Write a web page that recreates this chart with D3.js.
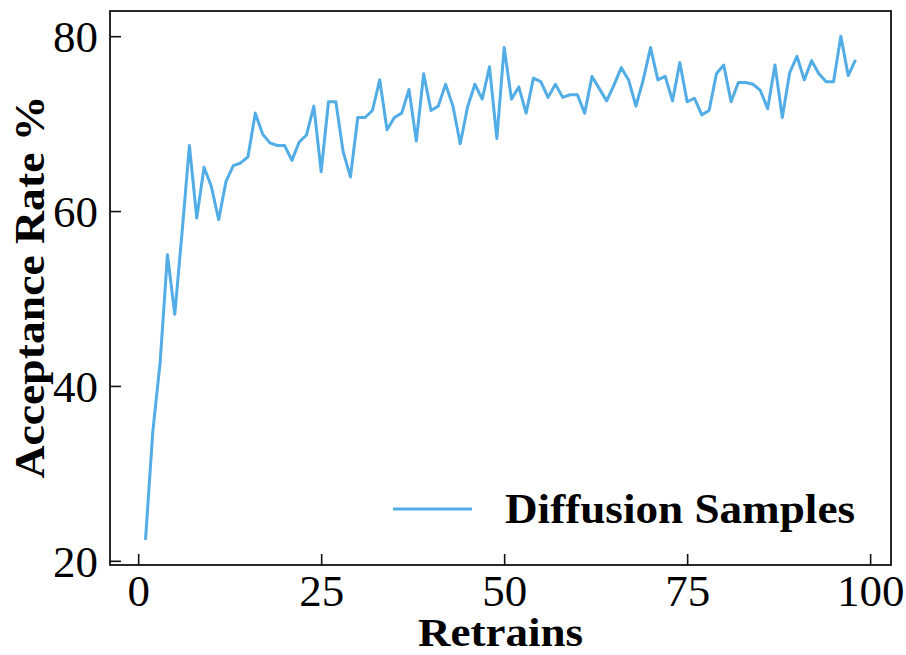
<!DOCTYPE html>
<html>
<head>
<meta charset="utf-8">
<script src="https://cdn.jsdelivr.net/npm/d3@7"></script>
<style>
  html, body { margin: 0; padding: 0; background: #fff; }
  svg { display: block; }
  text { font-family: "Liberation Serif", "Times New Roman", serif; fill: #000; }
</style>
</head>
<body>
<svg id="chart" width="906" height="655"></svg>
<script>
// Acceptance rate per retrain round
const retrains = d3.range(1, 99);
const acceptance = [
  22.4, 34.8, 42.7, 55.0, 48.2, 57.6, 67.5, 59.2, 65.0, 62.8,
  59.0, 63.4, 65.2, 65.5, 66.2, 71.2, 68.8, 67.8, 67.5, 67.5,
  65.8, 67.9, 68.7, 72.0, 64.5, 72.5, 72.5, 66.8, 63.9, 70.7,
  70.7, 71.5, 75.0, 69.3, 70.7, 71.2, 73.9, 68.0, 75.7, 71.5,
  72.0, 74.5, 72.0, 67.7, 71.9, 74.5, 72.8, 76.5, 68.3, 78.7,
  72.8, 74.2, 71.2, 75.2, 74.8, 73.0, 74.5, 73.0, 73.3, 73.3,
  71.2, 75.4, 74.0, 72.6, 74.4, 76.4, 75.0, 72.0, 75.0, 78.7,
  75.0, 75.4, 72.6, 77.0, 72.5, 72.9, 71.0, 71.5, 75.7, 76.7,
  72.5, 74.7, 74.7, 74.5, 73.8, 71.7, 76.7, 70.7, 75.8, 77.7,
  75.0, 77.2, 75.7, 74.8, 74.8, 80.0, 75.5, 77.3
];
const xTicks = [0, 25, 50, 75, 100];
const yTicks = [20, 40, 60, 80];
const seriesName = "Diffusion Samples";
const xLabel = "Retrains";
const yLabel = "Acceptance Rate %";

const svg = d3.select("#chart");
const plot = { left: 110, right: 891, top: 11, bottom: 565 };
const lineColor = "#52ACE6";

// Axis limits with 5% padding around the data extent
const xExt = d3.extent(retrains), yExt = d3.extent(acceptance);
const xPad = (xExt[1] - xExt[0]) * 0.05, yPad = (yExt[1] - yExt[0]) * 0.05;
const x = d3.scaleLinear().domain([xExt[0] - xPad, xExt[1] + xPad]).range([plot.left, plot.right]);
const y = d3.scaleLinear().domain([yExt[0] - yPad, yExt[1] + yPad]).range([plot.bottom, plot.top]);

// Data line
const line = d3.line().x((d, i) => x(retrains[i])).y(d => y(d));
svg.append("path")
  .datum(acceptance)
  .attr("d", line)
  .attr("fill", "none")
  .attr("stroke", lineColor)
  .attr("stroke-width", 3)
  .attr("stroke-linejoin", "round");

// Axes with inward ticks
const tickLen = 11;
const xAxis = svg.append("g")
  .attr("transform", `translate(0,${plot.bottom})`)
  .call(d3.axisBottom(x).tickValues(xTicks).tickSizeInner(-tickLen).tickSizeOuter(0).tickPadding(11).tickFormat(d3.format("d")));
const yAxis = svg.append("g")
  .attr("transform", `translate(${plot.left},0)`)
  .call(d3.axisLeft(y).tickValues(yTicks).tickSizeInner(-tickLen).tickSizeOuter(0).tickPadding(12).tickFormat(d3.format("d")));

[xAxis, yAxis].forEach(g => {
  g.select(".domain").remove();
  g.selectAll(".tick line").attr("stroke", "#111").attr("stroke-width", 1.6);
  g.selectAll(".tick text").attr("font-family", "Liberation Serif, serif").attr("font-size", 45).attr("fill", "#000");
});
yAxis.selectAll(".tick text").attr("dy", "0.34em");
xAxis.selectAll(".tick text").attr("dy", "0.66em");

// Frame
svg.append("rect")
  .attr("x", plot.left).attr("y", plot.top)
  .attr("width", plot.right - plot.left).attr("height", plot.bottom - plot.top)
  .attr("fill", "none").attr("stroke", "#111").attr("stroke-width", 1.8);

// Axis titles
svg.append("text")
  .attr("x", (plot.left + plot.right) / 2).attr("y", 646)
  .attr("text-anchor", "middle")
  .attr("font-weight", "bold").attr("font-size", 39)
  .attr("textLength", 165).attr("lengthAdjust", "spacingAndGlyphs")
  .text(xLabel);
svg.append("text")
  .attr("transform", `translate(44,287) rotate(-90)`)
  .attr("text-anchor", "middle")
  .attr("font-weight", "bold").attr("font-size", 42)
  .attr("textLength", 383).attr("lengthAdjust", "spacingAndGlyphs")
  .text(yLabel);

// Legend
const lg = svg.append("g").attr("transform", "translate(393,509)");
lg.append("line").attr("x1", 0).attr("x2", 79).attr("y1", 0).attr("y2", 0)
  .attr("stroke", lineColor).attr("stroke-width", 3);
lg.append("text").attr("x", 112).attr("y", 14)
  .attr("font-weight", "bold").attr("font-size", 42)
  .attr("textLength", 350).attr("lengthAdjust", "spacingAndGlyphs")
  .text(seriesName);
</script>
</body>
</html>
